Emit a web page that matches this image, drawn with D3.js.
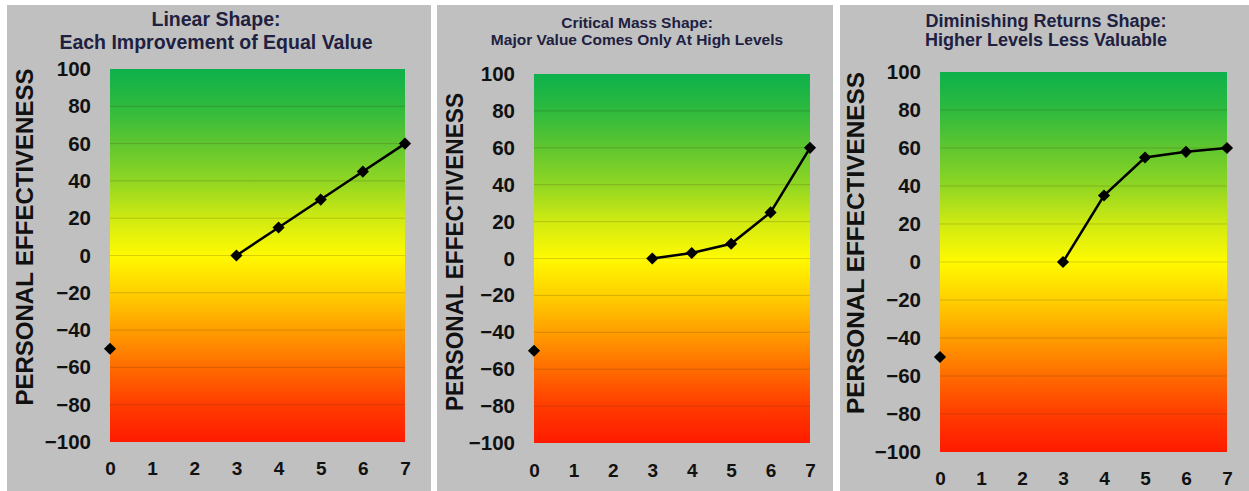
<!DOCTYPE html>
<html><head><meta charset="utf-8">
<script src="https://cdn.jsdelivr.net/npm/d3@7"></script>
<style>
html,body{margin:0;padding:0;background:#fff;}
svg{display:block;}
</style></head>
<body>
<svg id="chart" width="1249" height="491"></svg>
<script>
// ---- data ----
const xLevels = [0, 1, 2, 3, 4, 5, 6, 7];
const yTickValues = [-100, -80, -60, -40, -20, 0, 20, 40, 60, 80, 100];
const yAxisTitle = "PERSONAL EFFECTIVENESS";
const linearTitle = ["Linear Shape:", "Each Improvement of Equal Value"];
const criticalTitle = ["Critical Mass Shape:", "Major Value Comes Only At High Levels"];
const diminishingTitle = ["Diminishing Returns Shape:", "Higher Levels Less Valuable"];
const linearValues = [-50, null, null, 0, 15, 30, 45, 60];
const criticalValues = [-50, null, null, 0, 3, 8, 25, 60];
const diminishingValues = [-50, null, null, 0, 35, 55, 58, 60];

// ---- layout ----
const panels = [
  {title: linearTitle, values: linearValues, bg:[7,431], plot:{l:110,r:405,t:69,b:442},
   titleX:216, titleY:[26,49], titleSize:19.5, ylab:{x:25,y:237,len:337}, xTickY:475},
  {title: criticalTitle, values: criticalValues, bg:[437,833], plot:{l:534,r:810,t:74,b:443},
   titleX:637, titleY:[28,45], titleSize:15.5, ylab:{x:455,y:252,len:318}, xTickY:477},
  {title: diminishingTitle, values: diminishingValues, bg:[840,1249], plot:{l:940,r:1227,t:72,b:452},
   titleX:1046, titleY:[27,46], titleSize:18, ylab:{x:856,y:243,len:342}, xTickY:485}
];

const svg = d3.select("#chart");
const defs = svg.append("defs");
const grad = defs.append("linearGradient").attr("id","fill")
  .attr("x1",0).attr("y1",0).attr("x2",0).attr("y2",1);
[[0,"#0db14c"],[0.1,"#2eba3e"],[0.2,"#5fc630"],[0.3,"#90d623"],[0.4,"#d0ea12"],
 [0.5,"#fffa00"],[0.6,"#ffd000"],[0.7,"#ff9e00"],[0.8,"#ff6c00"],[0.9,"#ff3c00"],[1,"#ff1a00"]]
 .forEach(([o,c]) => grad.append("stop").attr("offset",o).attr("stop-color",c));

const font = "Arial, 'Liberation Sans', sans-serif";

panels.forEach(p => {
  const g = svg.append("g");
  g.append("rect").attr("x",p.bg[0]).attr("y",5).attr("width",p.bg[1]-p.bg[0]).attr("height",486)
    .attr("fill","#c0c0c0");

  const x = d3.scaleLinear().domain([0,7]).range([p.plot.l,p.plot.r]);
  const y = d3.scaleLinear().domain([-100,100]).range([p.plot.b,p.plot.t]);

  g.append("rect").attr("x",x(0)).attr("y",y(100)).attr("width",x(7)-x(0)).attr("height",y(-100)-y(100))
    .attr("fill","url(#fill)");

  // gridlines
  g.append("g").selectAll("line").data(yTickValues.filter(v => v>-100 && v<100)).join("line")
    .attr("x1",x(0)).attr("x2",x(7)).attr("y1",d=>y(d)).attr("y2",d=>y(d))
    .attr("stroke","rgba(60,40,0,0.2)").attr("stroke-width",1);

  // y axis
  const ya = g.append("g").attr("transform",`translate(${x(0)},0)`)
    .call(d3.axisLeft(y).tickValues(yTickValues).tickSize(0).tickPadding(19));
  ya.select(".domain").remove();
  ya.selectAll("text").attr("font-family",font).attr("font-size",20.5).attr("font-weight","bold")
    .attr("fill","#111");

  // x axis
  const xa = g.append("g").attr("transform",`translate(0,${p.xTickY})`)
    .call(d3.axisBottom(x).tickValues(xLevels).tickFormat(d3.format("d")).tickSize(0).tickPadding(0));
  xa.select(".domain").remove();
  xa.selectAll("text").attr("dy",0).attr("font-family",font).attr("font-size",19).attr("font-weight","bold")
    .attr("fill","#111");

  // y title
  g.append("text").attr("transform",`translate(${p.ylab.x+8},${p.ylab.y}) rotate(-90)`)
    .attr("text-anchor","middle").attr("font-family",font).attr("font-size",23).attr("font-weight","bold")
    .attr("textLength",p.ylab.len).attr("lengthAdjust","spacingAndGlyphs")
    .attr("fill","#111").text(yAxisTitle);

  // title
  p.title.forEach((t,i) => {
    g.append("text").attr("x",p.titleX).attr("y",p.titleY[i]).attr("text-anchor","middle")
      .attr("font-family",font).attr("font-size",p.titleSize).attr("font-weight","bold")
      .attr("fill","#202040").text(t);
  });

  // line
  const data = xLevels.map((lv,i) => ({x:lv, y:p.values[i]}));
  const line = d3.line().defined(d => d.y !== null).x(d => x(d.x)).y(d => y(d.y));
  g.append("path").datum(data).attr("d",line).attr("fill","none").attr("stroke","#000").attr("stroke-width",2.5);
  g.append("g").selectAll("path").data(data.filter(d => d.y !== null)).join("path")
    .attr("d", d3.symbol().type(d3.symbolSquare).size(74))
    .attr("transform", d => `translate(${x(d.x)},${y(d.y)}) rotate(45)`)
    .attr("fill","#000");
});
</script>
</body></html>
